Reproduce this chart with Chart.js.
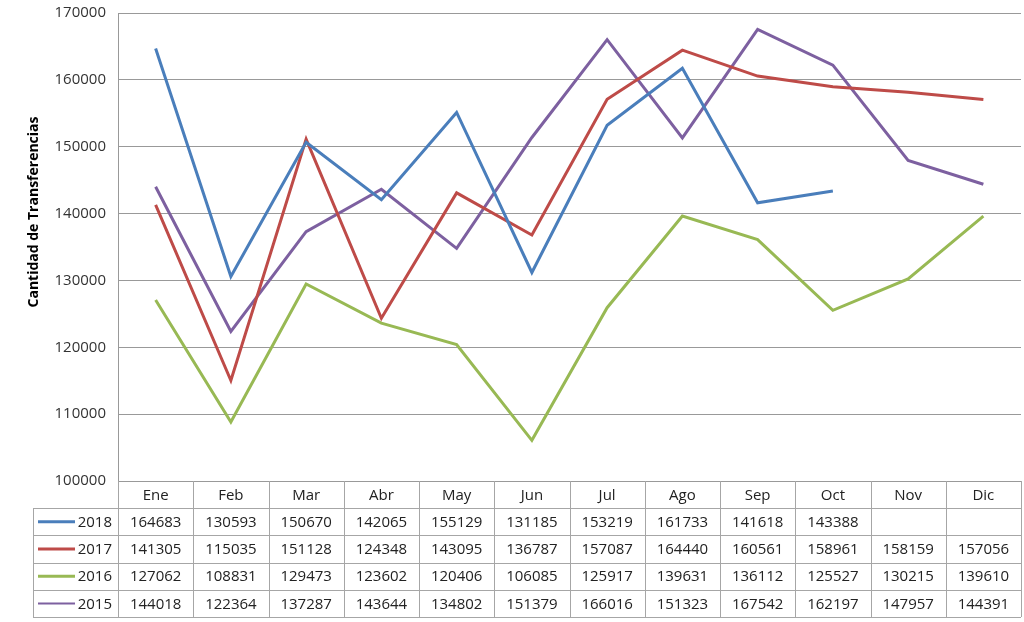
<!DOCTYPE html>
<html>
<head>
<meta charset="utf-8">
<script src="https://cdn.jsdelivr.net/npm/chart.js@4/dist/chart.umd.min.js"></script>
<style>
  html, body { margin: 0; padding: 0; background: #fff; }
  #wrap { width: 1024px; height: 622px; }
</style>
</head>
<body>
<div id="wrap"><canvas id="chart" width="1024" height="622"></canvas></div>
<script>
const months = ["Ene", "Feb", "Mar", "Abr", "May", "Jun", "Jul", "Ago", "Sep", "Oct", "Nov", "Dic"];
const years = ["2018", "2017", "2016", "2015"];
const colors = ["#4a7ebb", "#be4b48", "#98b954", "#7d60a0"];

const v2018 = [164683, 130593, 150670, 142065, 155129, 131185, 153219, 161733, 141618, 143388, null, null];
const v2017 = [141305, 115035, 151128, 124348, 143095, 136787, 157087, 164440, 160561, 158961, 158159, 157056];
const v2016 = [127062, 108831, 129473, 123602, 120406, 106085, 125917, 139631, 136112, 125527, 130215, 139610];
const v2015 = [144018, 122364, 137287, 143644, 134802, 151379, 166016, 151323, 167542, 162197, 147957, 144391];

const series = [v2018, v2017, v2016, v2015];
const yTitle = "Cantidad de Transferencias";
const FONT = "'Open Sans', sans-serif";

// data table under the plot, drawn with the x scale's columns
const tablePlugin = {
  id: "dataTable",
  afterDraw(chart) {
    const ctx = chart.ctx;
    const area = chart.chartArea;
    const xs = chart.scales.x;
    const colW = area.width / months.length;
    const rowH = 27.2;
    const top = area.bottom;
    const labelLeft = 33;

    ctx.save();
    ctx.strokeStyle = "#a6a6a6";
    ctx.lineWidth = 1;

    // horizontal lines
    for (let r = 1; r <= years.length + 1; r++) {
      const y = Math.round(top + r * rowH) + 0.5;
      ctx.beginPath();
      ctx.moveTo(labelLeft, y);
      ctx.lineTo(area.right, y);
      ctx.stroke();
    }
    // vertical lines
    for (let i = 0; i <= months.length; i++) {
      const x = Math.round(area.left + i * colW) + 0.5;
      ctx.beginPath();
      ctx.moveTo(x, top);
      ctx.lineTo(x, top + (years.length + 1) * rowH);
      ctx.stroke();
    }
    ctx.beginPath();
    ctx.moveTo(labelLeft + 0.5, top + rowH);
    ctx.lineTo(labelLeft + 0.5, top + (years.length + 1) * rowH);
    ctx.stroke();

    ctx.fillStyle = "#222";
    ctx.font = "15px " + FONT;
    ctx.textAlign = "center";
    ctx.textBaseline = "middle";
    months.forEach((m, i) => {
      ctx.fillText(m, xs.getPixelForValue(i), top + rowH / 2 + 1);
    });

    series.forEach((vals, r) => {
      const cy = top + (r + 1.5) * rowH + 1;
      vals.forEach((v, i) => {
        if (v !== null) ctx.fillText(String(v), xs.getPixelForValue(i), cy);
      });
      // legend key
      ctx.strokeStyle = colors[r];
      ctx.lineWidth = r === 3 ? 2 : 3;
      ctx.beginPath();
      ctx.moveTo(labelLeft + 5, cy - 1);
      ctx.lineTo(labelLeft + 42, cy - 1);
      ctx.stroke();
      ctx.textAlign = "right";
      ctx.fillText(years[r], area.left - 6, cy);
      ctx.textAlign = "center";
    });

    // y axis title
    ctx.translate(34, 212);
    ctx.rotate(-Math.PI / 2);
    ctx.font = "bold 14px " + FONT;
    ctx.fillStyle = "#000";
    ctx.fillText(yTitle, 0, 0);
    ctx.restore();
  }
};

new Chart(document.getElementById("chart"), {
  type: "line",
  data: {
    labels: months,
    datasets: series.map((vals, i) => ({
      label: years[i],
      data: vals,
      borderColor: colors[i],
      backgroundColor: colors[i],
      borderWidth: 3,
      pointRadius: 0,
      tension: 0,
      spanGaps: false
    }))
  },
  options: {
    responsive: false,
    animation: false,
    layout: { padding: { top: 13, right: 3, bottom: 141, left: 0 } },
    plugins: {
      legend: { display: false },
      tooltip: { enabled: false }
    },
    scales: {
      x: {
        display: false,
        offset: true
      },
      y: {
        min: 100000,
        max: 170000,
        afterFit(scale) {
          scale.width = 118;
          scale.paddingTop = 0;
          scale.paddingBottom = 0;
        },
        ticks: {
          stepSize: 10000,
          padding: 12,
          color: "#333",
          font: { family: FONT, size: 15 },
          callback: (v) => String(v)
        },
        grid: { color: "#999999", drawTicks: false },
        border: { color: "#999999" }
      }
    }
  },
  plugins: [tablePlugin]
});
</script>
</body>
</html>
